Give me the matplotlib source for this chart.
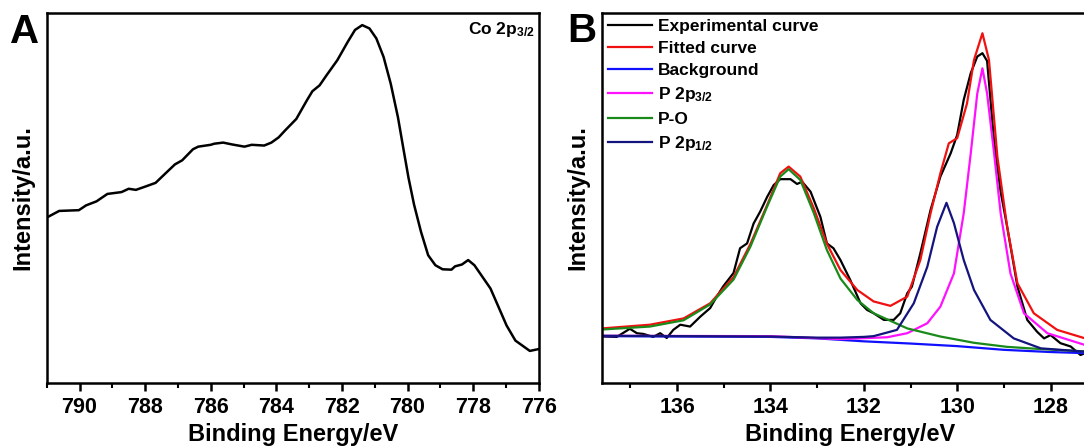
import numpy as np
import matplotlib
matplotlib.use("Agg")
import matplotlib.pyplot as plt
from matplotlib.ticker import MultipleLocator, NullLocator

plt.rcParams['font.family'] = ['Liberation Sans', 'DejaVu Sans']
plt.rcParams['font.weight'] = 'bold'
plt.rcParams['mathtext.fontset'] = 'custom'
plt.rcParams['mathtext.rm'] = 'Liberation Sans:bold'
plt.rcParams['mathtext.it'] = 'Liberation Sans:bold'
plt.rcParams['mathtext.bf'] = 'Liberation Sans:bold'

# panel A: Co 2p3/2 spectrum (binding energy, intensity)
co_energy = [791.00, 790.62, 790.02, 789.80, 789.48, 789.15, 788.72, 788.50, 788.28, 787.96,
             787.68, 787.41, 787.09, 786.87, 786.54, 786.38, 786.00, 785.89, 785.62, 785.35,
             784.97, 784.75, 784.37, 784.15, 783.93, 783.72, 783.39, 783.07, 782.90, 782.68,
             782.47, 782.14, 781.82, 781.60, 781.38, 781.16, 780.95, 780.73, 780.51, 780.29,
             780.13, 779.97, 779.80, 779.59, 779.37, 779.15, 778.93, 778.66, 778.55, 778.34,
             778.15, 777.96, 777.68, 777.47, 777.20, 776.98, 776.71, 776.49, 776.27, 776.11,
             776.00]
co_intensity = [44.7, 46.5, 46.7, 48.0, 49.1, 51.1, 51.6, 52.5, 52.2, 53.2,
                54.1, 56.4, 59.1, 60.2, 63.2, 63.9, 64.4, 64.7, 65.0, 64.5,
                63.9, 64.4, 64.2, 65.0, 66.4, 68.4, 71.4, 76.4, 78.9, 80.5,
                83.2, 87.3, 92.3, 95.5, 96.8, 95.9, 93.2, 88.2, 80.9, 71.8,
                63.6, 55.5, 48.2, 40.9, 34.5, 31.8, 30.7, 30.6, 31.5, 32.0,
                33.2, 31.8, 28.2, 25.5, 20.0, 15.5, 11.4, 10.0, 8.6, 8.9,
                9.1]

# panel B: P 2p spectrum and fit
exp_energy = [137.56, 137.29, 137.01, 136.86, 136.72, 136.51, 136.36, 136.22, 136.08, 135.93,
              135.72, 135.50, 135.29, 135.15, 135.01, 134.79, 134.65, 134.50, 134.36, 134.22,
              134.07, 133.93, 133.79, 133.57, 133.43, 133.32, 133.14, 132.93, 132.79, 132.65,
              132.50, 132.29, 132.07, 131.93, 131.79, 131.57, 131.36, 131.22, 131.07, 130.97,
              130.79, 130.57, 130.36, 130.14, 130.00, 129.86, 129.71, 129.57, 129.46, 129.36,
              129.21, 129.07, 128.93, 128.71, 128.50, 128.29, 128.14, 128.00, 127.79, 127.57,
              127.36, 127.26, 127.00]
exp_intensity = [12.5, 12.4, 14.6, 13.4, 13.2, 12.4, 13.4, 12.1, 14.3, 15.7,
                 15.2, 17.9, 20.2, 23.3, 26.1, 29.7, 36.4, 37.7, 43.1, 46.3,
                 50.3, 53.5, 55.1, 55.1, 53.8, 54.4, 51.7, 44.9, 37.7, 36.4,
                 33.2, 27.8, 21.5, 19.7, 18.8, 17.0, 17.0, 18.8, 24.2, 26.0,
                 35.0, 46.8, 55.8, 62.1, 67.1, 76.6, 83.8, 88.3, 89.2, 87.1,
                 65.3, 51.7, 42.2, 26.0, 17.0, 13.8, 12.0, 12.9, 10.7, 9.8,
                 7.5, 8.0, 7.9]

fit_energy = [137.6, 136.58, 135.86, 135.29, 134.79, 134.43, 134.07, 133.79, 133.61, 133.36,
              133.07, 132.79, 132.50, 132.14, 131.79, 131.43, 131.07, 130.79, 130.57, 130.36,
              130.18, 130.00, 129.79, 129.64, 129.46, 129.32, 129.14, 128.93, 128.71, 128.36,
              127.86, 127.00]
fit_intensity = [14.7, 15.7, 17.4, 21.5, 28.6, 37.5, 48.1, 56.7, 58.5, 55.8,
                 47.2, 37.6, 30.5, 25.1, 22.0, 20.8, 23.3, 33.2, 45.9, 56.7,
                 64.8, 66.2, 75.6, 87.4, 94.6, 87.4, 61.2, 42.2, 26.9, 18.8,
                 14.3, 11.0]

bg_energy = [137.6, 134.0, 133.0, 132.0, 131.0, 130.0, 129.0, 128.0, 127.0]
bg_intensity = [12.6, 12.4, 12.0, 11.2, 10.6, 9.9, 8.9, 8.3, 7.9]

p32_energy = [137.6, 134.0, 132.5, 131.5, 131.07, 130.64, 130.36, 130.07, 129.86, 129.71,
              129.57, 129.46, 129.36, 129.21, 129.07, 128.86, 128.57, 128.07, 127.26, 127.0]
p32_intensity = [12.7, 12.6, 11.8, 12.3, 13.4, 16.1, 20.6, 29.6, 45.9, 62.1,
                 78.3, 85.1, 78.3, 62.1, 45.9, 29.6, 18.8, 13.4, 10.2, 9.8]

po_energy = [137.6, 136.58, 135.86, 135.29, 134.79, 134.43, 134.07, 133.79, 133.61, 133.36,
             133.07, 132.79, 132.50, 132.14, 131.79, 131.07, 130.36, 129.64, 128.93, 128.21,
             127.0]
po_intensity = [14.4, 15.2, 16.9, 21.2, 27.9, 36.8, 47.7, 55.8, 57.8, 54.9,
                45.9, 35.9, 28.2, 22.4, 18.8, 14.7, 12.5, 10.8, 9.7, 9.1,
                8.3]

p12_energy = [137.6, 134.0, 133.0, 132.5, 132.0, 131.79, 131.29, 130.93, 130.64, 130.43,
              130.23, 130.07, 129.86, 129.64, 129.29, 128.79, 128.21, 127.26, 127.0]
p12_intensity = [12.7, 12.5, 12.2, 12.2, 12.4, 12.6, 14.3, 21.5, 31.4, 42.2,
                 48.7, 43.2, 33.2, 25.1, 17.0, 12.0, 9.3, 8.4, 8.3]

fig = plt.figure(figsize=(10.84, 4.47), dpi=100)
axA = fig.add_axes([46.7 / 1084, 64.3 / 447, 492 / 1084, 369.4 / 447])
axB = fig.add_axes([602.3 / 1084, 64.3 / 447, 495 / 1084, 369.4 / 447])

for ax in (axA, axB):
    for sp in ax.spines.values():
        sp.set_linewidth(1.8)
    ax.yaxis.set_major_locator(NullLocator())
    ax.xaxis.set_major_locator(MultipleLocator(2))
    ax.xaxis.set_minor_locator(MultipleLocator(1))
    ax.tick_params(axis='x', which='major', direction='out', length=6, width=1.8,
                   labelsize=15.5, pad=4)
    ax.tick_params(axis='x', which='minor', direction='out', length=3.5, width=1.5)
    ax.set_ylim(0, 100)
    ax.set_xlabel('Binding Energy/eV', fontsize=17, fontweight='bold', labelpad=4)
    ax.set_ylabel('Intensity/a.u.', fontsize=17, fontweight='bold', labelpad=9)
    for lab in ax.get_xticklabels():
        lab.set_fontweight('bold')

axA.plot(co_energy, co_intensity, color='black', lw=1.8)
axA.set_xlim(791, 776)
axA.text(0.993, 0.982, 'Co 2p$_{3/2}$', transform=axA.transAxes, ha='right', va='top',
         fontsize=12.5, fontweight='bold')

axB.plot(exp_energy, exp_intensity, color='black', lw=1.6, label='Experimental curve')
axB.plot(fit_energy, fit_intensity, color='#f01010', lw=1.6, label='Fitted curve')
axB.plot(bg_energy, bg_intensity, color='#1010ff', lw=1.6, label='Background')
axB.plot(p32_energy, p32_intensity, color='#ff10ff', lw=1.6, label='P 2p$_{3/2}$')
axB.plot(po_energy, po_intensity, color='#1a8a1a', lw=1.6, label='P-O')
axB.plot(p12_energy, p12_intensity, color='#14147e', lw=1.6, label='P 2p$_{1/2}$')
axB.set_xlim(137.6, 127.0)
axB.legend(loc='upper left', bbox_to_anchor=(0.0, 1.0), frameon=False,
           handlelength=2.55, handletextpad=0.35, labelspacing=0.41, borderpad=0.2,
           borderaxespad=0.1, prop={'weight': 'bold', 'size': 12.5})

fig.text(10 / 1084, 1 - 43 / 447, 'A', fontsize=29, fontweight='bold', ha='left', va='baseline')
fig.text(567.7 / 1084, 1 - 41.7 / 447, 'B', fontsize=29, fontweight='bold', ha='left', va='baseline')

fig.savefig('out.png', dpi=100)
